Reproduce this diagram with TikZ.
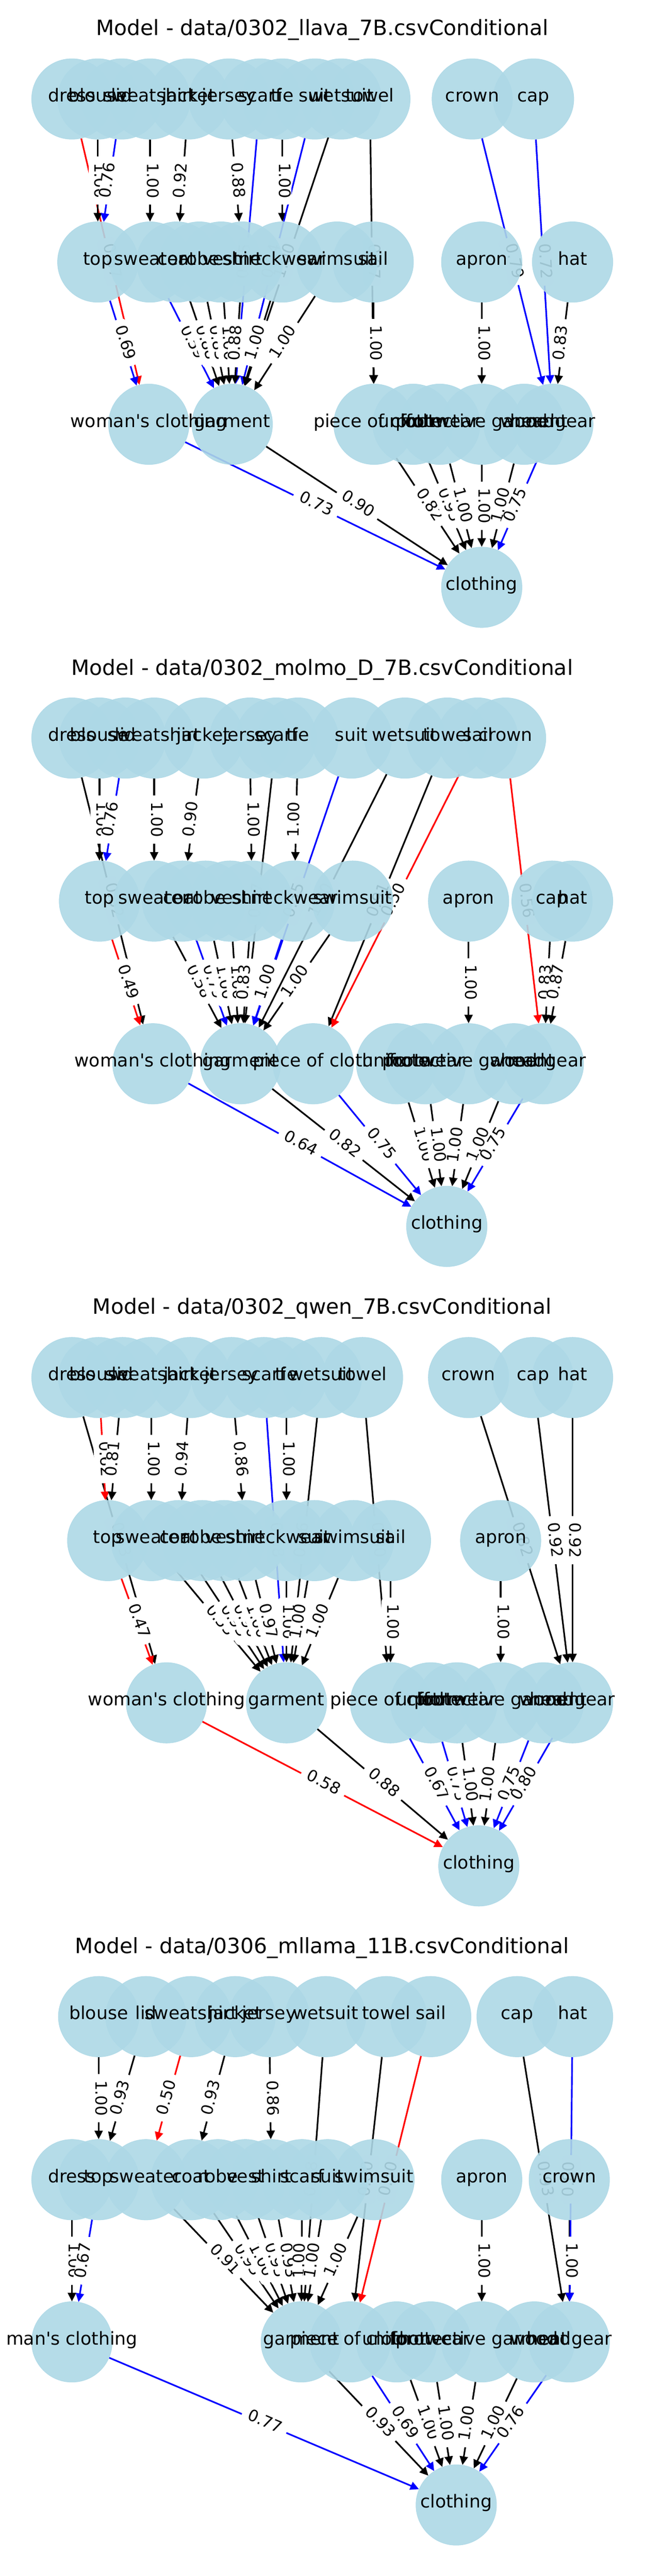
\documentclass[tikz,border=0pt]{standalone}
\usepackage{fontspec}
\newfontfamily\dv{DejaVu Sans}
\usetikzlibrary{arrows.meta}
\definecolor{lightblue}{RGB}{173,216,230}
\pgfdeclarelayer{el}\pgfdeclarelayer{lb}\pgfdeclarelayer{nl}
\pgfsetlayers{el,lb,main,nl}
\tikzset{
 vnode/.style={circle,minimum size=93.7pt,inner sep=0pt,fill=lightblue,fill opacity=0.9,draw=lightblue,draw opacity=0.9,line width=0.6pt},
 nlab/.style={font=\dv\fontsize{20.8}{24}\selectfont,inner sep=0pt,text height=0.86em,text depth=0.2em},
 elab/.style={font=\dv\fontsize{18.5}{22}\selectfont,fill=white,rounded corners=5pt,inner xsep=7.5pt,inner ysep=6pt,text height=0.8em,text depth=0.1em},
 arr/.style={-{Triangle[length=10pt,width=9.5pt]},line width=1.9pt},
 tit/.style={font=\dv\fontsize{24.5}{29}\selectfont,inner sep=0pt}
}
\newcommand\ND[4]{\node[vnode] (#1) at (#2,#3) {};\begin{pgfonlayer}{nl}\node[nlab] at (#1) {#4};\end{pgfonlayer}}
\newcommand\ED[4]{\begin{pgfonlayer}{el}\draw[arr,#1] (#2) -- (#3);\end{pgfonlayer}\begin{pgfonlayer}{lb}\path (#2) -- (#3) node[elab,midway,sloped] {#4};\end{pgfonlayer}}
\begin{document}
\begin{tikzpicture}[x=0.4783pt,y=-0.4783pt]
\useasboundingbox (0,0) rectangle (1568,6272);
% ---------------- Panel 1
\begin{scope}
\node[tit] (t1) at (784,73) {Model - data/0302\_llava\_7B.csvConditional};
\ND{adress}{175}{241}{dress}\ND{ablouse}{238}{241}{blouse}\ND{alid}{296}{241}{lid}
\ND{asweatshirt}{365}{241}{sweatshirt}\ND{ajacket}{459}{241}{jacket}\ND{ajersey}{557}{241}{jersey}
\ND{ascarf}{633}{241}{scarf}\ND{atie}{687}{241}{tie}\ND{asuit}{766}{241}{suit}
\ND{awetsuit}{830}{241}{wetsuit}\ND{atowel}{900}{241}{towel}\ND{acrown}{1149}{241}{crown}\ND{acap}{1298}{241}{cap}
\ND{atop}{238}{638}{top}\ND{asweater}{365}{638}{sweater}\ND{acoat}{430}{638}{coat}\ND{arobe}{485}{638}{robe}
\ND{avest}{538}{638}{vest}\ND{ashirt}{590}{638}{shirt}\ND{aneckwear}{687}{638}{neckwear}
\ND{aswimsuit}{820}{638}{swimsuit}\ND{asail}{908}{638}{sail}\ND{aapron}{1172}{638}{apron}\ND{ahat}{1393}{638}{hat}
\ND{awoman}{362}{1033}{woman's clothing}\ND{agarment}{565}{1033}{garment}\ND{apiece}{910}{1033}{piece of cloth}
\ND{auniform}{1005}{1033}{uniform}\ND{afootwear}{1070}{1033}{footwear}\ND{aprot}{1172}{1033}{protective garment}
\ND{awood}{1275}{1033}{wood}\ND{aheadgear}{1345}{1033}{headgear}
\ND{aclothing}{1172}{1430}{clothing}
\end{scope}
\ED{red}{adress}{awoman}{0.57}
\ED{black}{ablouse}{atop}{1.00}
\ED{blue}{alid}{atop}{0.76}
\ED{black}{asweatshirt}{asweater}{1.00}
\ED{black}{ajacket}{acoat}{0.92}
\ED{black}{ajersey}{ashirt}{0.88}
\ED{blue}{ascarf}{agarment}{0.55}
\ED{black}{atie}{aneckwear}{1.00}
\ED{blue}{asuit}{agarment}{0.64}
\ED{black}{awetsuit}{agarment}{1.00}
\ED{black}{atowel}{apiece}{0.87}
\ED{blue}{acrown}{aheadgear}{0.79}
\ED{blue}{acap}{aheadgear}{0.72}
\ED{black}{ahat}{aheadgear}{0.83}
\ED{black}{aapron}{aprot}{1.00}
\ED{blue}{atop}{awoman}{0.69}
\ED{blue}{asweater}{agarment}{0.59}
\ED{black}{acoat}{agarment}{0.88}
\ED{black}{arobe}{agarment}{0.83}
\ED{black}{avest}{agarment}{1.00}
\ED{black}{ashirt}{agarment}{0.88}
\ED{black}{aneckwear}{agarment}{1.00}
\ED{black}{aswimsuit}{agarment}{1.00}
\ED{black}{asail}{apiece}{1.00}
\ED{blue}{awoman}{aclothing}{0.73}
\ED{black}{agarment}{aclothing}{0.90}
\ED{black}{apiece}{aclothing}{0.82}
\ED{black}{auniform}{aclothing}{0.95}
\ED{black}{afootwear}{aclothing}{1.00}
\ED{black}{aprot}{aclothing}{1.00}
\ED{black}{awood}{aclothing}{1.00}
\ED{blue}{aheadgear}{aclothing}{0.75}
% ---------------- Panel 2
\begin{scope}[shift={(0,1568)}]
\node[tit] (t2) at (784,62) {Model - data/0302\_molmo\_D\_7B.csvConditional};
\ND{bdress}{175}{229}{dress}\ND{bblouse}{242}{229}{blouse}\ND{blid}{305}{229}{lid}
\ND{bsweatshirt}{375}{229}{sweatshirt}\ND{bjacket}{495}{229}{jacket}\ND{bjersey}{608}{229}{jersey}
\ND{bscarf}{672}{229}{scarf}\ND{btie}{725}{229}{tie}\ND{bsuit}{855}{229}{suit}
\ND{bwetsuit}{985}{229}{wetsuit}\ND{btowel}{1088}{229}{towel}\ND{bsail}{1162}{229}{sail}\ND{bcrown}{1230}{229}{crown}
\ND{btop}{242}{626}{top}\ND{bsweater}{375}{626}{sweater}\ND{bcoat}{444}{626}{coat}\ND{brobe}{500}{626}{robe}
\ND{bvest}{560}{626}{vest}\ND{bshirt}{613}{626}{shirt}\ND{bneckwear}{716}{626}{neckwear}
\ND{bswimsuit}{858}{626}{swimsuit}\ND{bapron}{1140}{626}{apron}\ND{bcap}{1343}{626}{cap}\ND{bhat}{1393}{626}{hat}
\ND{bwoman}{372}{1022}{woman's clothing}\ND{bgarment}{585}{1022}{garment}\ND{bpiece}{762}{1022}{piece of cloth}
\ND{buniform}{965}{1022}{uniform}\ND{bfootwear}{1035}{1022}{footwear}\ND{bprot}{1140}{1022}{protective garment}
\ND{bwood}{1250}{1022}{wood}\ND{bheadgear}{1322}{1022}{headgear}
\ND{bclothing}{1087}{1418}{clothing}
\end{scope}
\ED{black}{bdress}{bwoman}{0.52}
\ED{black}{bblouse}{btop}{1.00}
\ED{blue}{blid}{btop}{0.76}
\ED{black}{bsweatshirt}{bsweater}{1.00}
\ED{black}{bjacket}{bcoat}{0.90}
\ED{black}{bjersey}{bshirt}{1.00}
\ED{black}{bscarf}{bgarment}{0.67}
\ED{black}{btie}{bneckwear}{1.00}
\ED{blue}{bsuit}{bgarment}{0.55}
\ED{black}{bwetsuit}{bgarment}{1.00}
\ED{black}{btowel}{bpiece}{0.91}
\ED{red}{bsail}{bpiece}{0.50}
\ED{red}{bcrown}{bheadgear}{0.56}
\ED{black}{bcap}{bheadgear}{0.83}
\ED{black}{bhat}{bheadgear}{0.87}
\ED{black}{bapron}{bprot}{1.00}
\ED{red}{btop}{bwoman}{0.49}
\ED{black}{bsweater}{bgarment}{0.58}
\ED{blue}{bcoat}{bgarment}{0.79}
\ED{black}{brobe}{bgarment}{1.00}
\ED{black}{bvest}{bgarment}{1.00}
\ED{black}{bshirt}{bgarment}{0.83}
\ED{blue}{bneckwear}{bgarment}{1.00}
\ED{black}{bswimsuit}{bgarment}{1.00}
\ED{blue}{bwoman}{bclothing}{0.64}
\ED{black}{bgarment}{bclothing}{0.82}
\ED{blue}{bpiece}{bclothing}{0.75}
\ED{black}{buniform}{bclothing}{1.00}
\ED{black}{bfootwear}{bclothing}{1.00}
\ED{black}{bprot}{bclothing}{1.00}
\ED{black}{bwood}{bclothing}{1.00}
\ED{blue}{bheadgear}{bclothing}{0.75}
% ---------------- Panel 3
\begin{scope}[shift={(0,3136)}]
\node[tit] (t3) at (784,50) {Model - data/0302\_qwen\_7B.csvConditional};
\ND{cdress}{175}{218}{dress}\ND{cblouse}{240}{218}{blouse}\ND{clid}{298}{218}{lid}
\ND{csweatshirt}{368}{218}{sweatshirt}\ND{cjacket}{463}{218}{jacket}\ND{cjersey}{563}{218}{jersey}
\ND{cscarf}{642}{218}{scarf}\ND{ctie}{697}{218}{tie}\ND{cwetsuit}{782}{218}{wetsuit}
\ND{ctowel}{882}{218}{towel}\ND{ccrown}{1140}{218}{crown}\ND{ccap}{1297}{218}{cap}\ND{chat}{1393}{218}{hat}
\ND{ctop}{262}{615}{top}\ND{csweater}{368}{615}{sweater}\ND{ccoat}{435}{615}{coat}\ND{crobe}{492}{615}{robe}
\ND{cvest}{545}{615}{vest}\ND{cshirt}{598}{615}{shirt}\ND{cneckwear}{697}{615}{neckwear}\ND{csuit}{765}{615}{suit}
\ND{cswimsuit}{860}{615}{swimsuit}\ND{csail}{950}{615}{sail}\ND{capron}{1218}{615}{apron}
\ND{cwoman}{405}{1010}{woman's clothing}\ND{cgarment}{697}{1010}{garment}\ND{cpiece}{950}{1010}{piece of cloth}
\ND{cuniform}{1048}{1010}{uniform}\ND{cfootwear}{1112}{1010}{footwear}\ND{cprot}{1218}{1010}{protective garment}
\ND{cwood}{1322}{1010}{wood}\ND{cheadgear}{1393}{1010}{headgear}
\ND{cclothing}{1165}{1407}{clothing}
\end{scope}
\ED{black}{cdress}{cwoman}{0.53}
\ED{red}{cblouse}{ctop}{0.62}
\ED{black}{clid}{ctop}{0.81}
\ED{black}{csweatshirt}{csweater}{1.00}
\ED{black}{cjacket}{ccoat}{0.94}
\ED{black}{cjersey}{cshirt}{0.86}
\ED{blue}{cscarf}{cgarment}{0.58}
\ED{black}{ctie}{cneckwear}{1.00}
\ED{black}{cwetsuit}{cgarment}{0.86}
\ED{black}{ctowel}{cpiece}{0.80}
\ED{black}{ccrown}{cheadgear}{0.82}
\ED{black}{ccap}{cheadgear}{0.92}
\ED{black}{chat}{cheadgear}{0.92}
\ED{black}{capron}{cprot}{1.00}
\ED{red}{ctop}{cwoman}{0.47}
\ED{black}{csweater}{cgarment}{0.55}
\ED{black}{ccoat}{cgarment}{0.93}
\ED{black}{crobe}{cgarment}{0.90}
\ED{black}{cvest}{cgarment}{1.00}
\ED{black}{cshirt}{cgarment}{0.97}
\ED{black}{cneckwear}{cgarment}{1.00}
\ED{black}{csuit}{cgarment}{1.00}
\ED{black}{cswimsuit}{cgarment}{1.00}
\ED{black}{csail}{cpiece}{1.00}
\ED{red}{cwoman}{cclothing}{0.58}
\ED{black}{cgarment}{cclothing}{0.88}
\ED{blue}{cpiece}{cclothing}{0.67}
\ED{blue}{cuniform}{cclothing}{0.75}
\ED{black}{cfootwear}{cclothing}{1.00}
\ED{black}{cprot}{cclothing}{1.00}
\ED{blue}{cwood}{cclothing}{0.75}
\ED{blue}{cheadgear}{cclothing}{0.80}
% ---------------- Panel 4
\begin{scope}[shift={(0,4704)}]
\node[tit] (t4) at (784,38) {Model - data/0306\_mllama\_11B.csvConditional};
\ND{dblouse}{240}{206}{blouse}\ND{dlid}{355}{206}{lid}\ND{dsweatshirt}{465}{206}{sweatshirt}
\ND{djacket}{572}{206}{jacket}\ND{djersey}{655}{206}{jersey}\ND{dwetsuit}{792}{206}{wetsuit}
\ND{dtowel}{940}{206}{towel}\ND{dsail}{1048}{206}{sail}\ND{dcap}{1258}{206}{cap}\ND{dhat}{1393}{206}{hat}
\ND{ddress}{175}{603}{dress}\ND{dtop}{240}{603}{top}\ND{dsweater}{355}{603}{sweater}\ND{dcoat}{465}{603}{coat}
\ND{drobe}{530}{603}{robe}\ND{dvest}{597}{603}{vest}\ND{dshirt}{660}{603}{shirt}\ND{dscarf}{735}{603}{scarf}
\ND{dsuit}{797}{603}{suit}\ND{dswimsuit}{910}{603}{swimsuit}\ND{dapron}{1172}{603}{apron}\ND{dcrown}{1385}{603}{crown}
\ND{dman}{175}{998}{man's clothing}\ND{dgarment}{733}{998}{garment}\ND{dpiece}{852}{998}{piece of cloth}
\ND{duniform}{965}{998}{uniform}\ND{dfootwear}{1048}{998}{footwear}\ND{dprot}{1172}{998}{protective garment}
\ND{dwood}{1300}{998}{wood}\ND{dheadgear}{1385}{998}{headgear}
\ND{dclothing}{1110}{1395}{clothing}
\end{scope}
\ED{black}{dblouse}{dtop}{1.00}
\ED{black}{dlid}{dtop}{0.93}
\ED{red}{dsweatshirt}{dsweater}{0.50}
\ED{black}{djacket}{dcoat}{0.93}
\ED{black}{djersey}{dshirt}{0.86}
\ED{black}{dwetsuit}{dgarment}{0.88}
\ED{black}{dtowel}{dpiece}{0.80}
\ED{red}{dsail}{dpiece}{0.50}
\ED{black}{dcap}{dheadgear}{0.93}
\ED{black}{dcrown}{dheadgear}{1.00}
\ED{blue}{dhat}{dheadgear}{0.80}
\ED{black}{dapron}{dprot}{1.00}
\ED{black}{ddress}{dman}{1.00}
\ED{blue}{dtop}{dman}{0.67}
\ED{black}{dsweater}{dgarment}{0.91}
\ED{black}{dcoat}{dgarment}{0.93}
\ED{black}{drobe}{dgarment}{1.00}
\ED{black}{dvest}{dgarment}{0.95}
\ED{black}{dshirt}{dgarment}{0.93}
\ED{black}{dscarf}{dgarment}{1.00}
\ED{black}{dsuit}{dgarment}{1.00}
\ED{black}{dswimsuit}{dgarment}{1.00}
\ED{blue}{dman}{dclothing}{0.77}
\ED{black}{dgarment}{dclothing}{0.93}
\ED{blue}{dpiece}{dclothing}{0.69}
\ED{black}{duniform}{dclothing}{1.00}
\ED{black}{dfootwear}{dclothing}{1.00}
\ED{black}{dprot}{dclothing}{1.00}
\ED{black}{dwood}{dclothing}{1.00}
\ED{blue}{dheadgear}{dclothing}{0.76}
\end{tikzpicture}
\end{document}
